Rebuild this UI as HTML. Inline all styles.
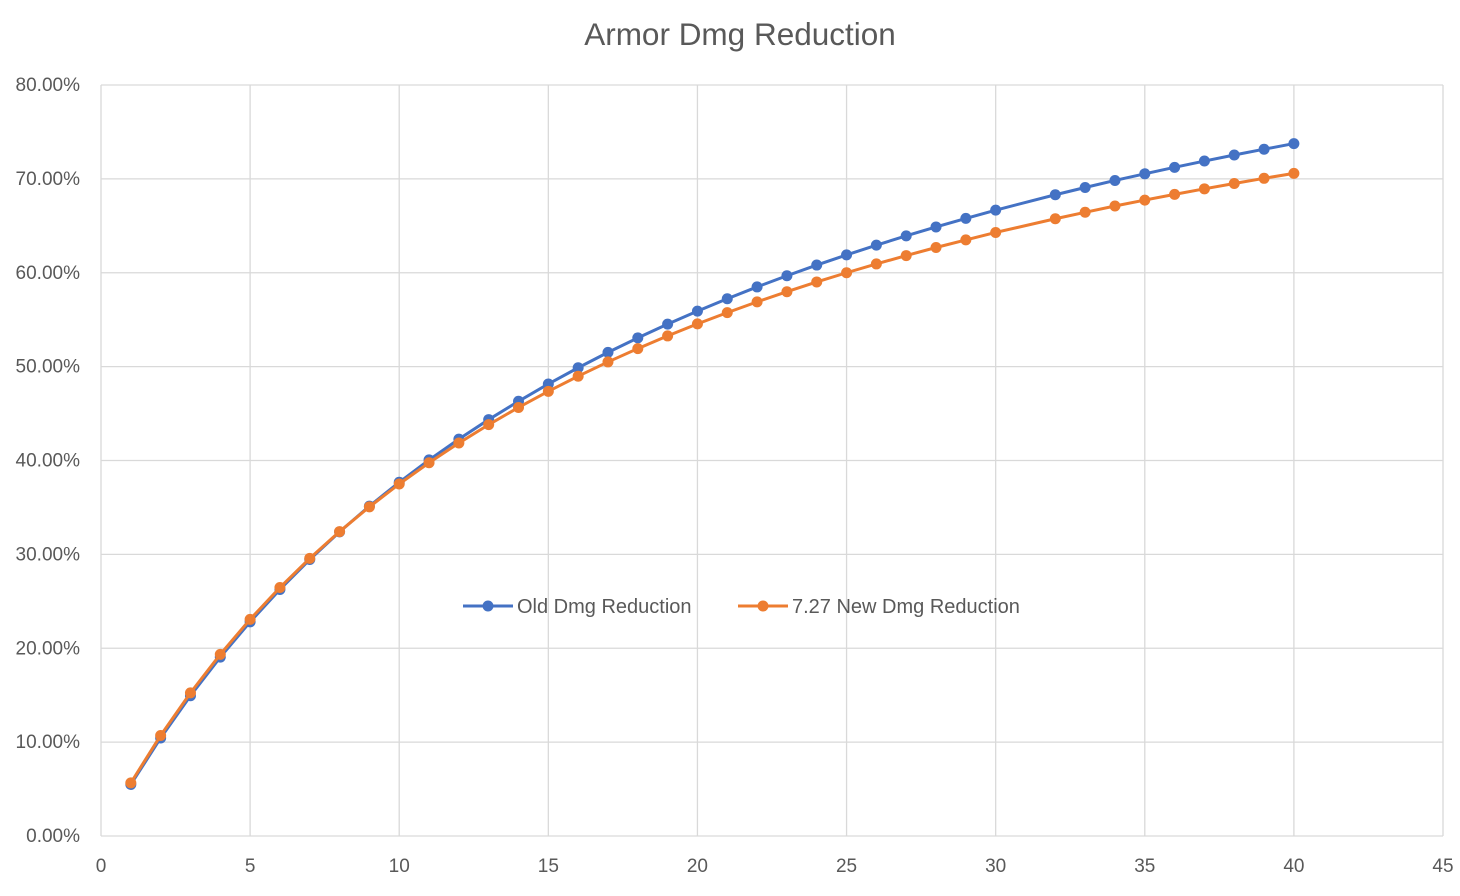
<!DOCTYPE html>
<html><head><meta charset="utf-8"><style>
body{margin:0;background:#fff;font-family:"Liberation Sans",sans-serif}
svg text{font-family:"Liberation Sans",sans-serif;fill:#595959}
</style></head><body>
<svg id="c" width="1460" height="891"></svg>
<script>
const xVals=[1,2,3,4,5,6,7,8,9,10,11,12,13,14,15,16,17,18,19,20,21,22,23,24,25,26,27,28,29,30,32,33,34,35,36,37,38,39,40];
const oldVals=[5.49,10.44,14.94,19.05,22.81,26.26,29.45,32.40,35.14,37.68,40.06,42.28,44.36,46.31,48.15,49.88,51.52,53.06,54.53,55.91,57.23,58.49,59.68,60.82,61.90,62.94,63.93,64.88,65.79,66.67,68.31,69.08,69.83,70.54,71.23,71.90,72.54,73.16,73.76];
const newVals=[5.66,10.71,15.25,19.35,23.08,26.47,29.58,32.43,35.06,37.50,39.76,41.86,43.82,45.65,47.37,48.98,50.50,51.92,53.27,54.55,55.75,56.90,57.98,59.02,60.00,60.94,61.83,62.69,63.50,64.29,65.75,66.44,67.11,67.74,68.35,68.94,69.51,70.06,70.59];
const xTicks=[0,5,10,15,20,25,30,35,40,45];
const yTicks=[0,10,20,30,40,50,60,70,80];
const L=101,R=1443,T=85,B=836;
const sx=v=>L+(v/45)*(R-L), sy=v=>B-(v/80)*(B-T);
const svg=document.getElementById('c');const NS='http://www.w3.org/2000/svg';
function mk(t,a,p){const e=document.createElementNS(NS,t);for(const k in a)e.setAttribute(k,a[k]);(p||svg).appendChild(e);return e;}
const title=mk('text',{x:740,y:45,'text-anchor':'middle','font-size':31.5});title.textContent='Armor Dmg Reduction';


yTicks.forEach(v=>{const g=mk('line',{x1:L,x2:R,y1:sy(v),y2:sy(v),stroke:'#d9d9d9','stroke-width':1.3});


const t=mk('text',{x:80,y:sy(v)+6,'text-anchor':'end','font-size':19});t.textContent=v.toFixed(2)+'%';

});
xTicks.forEach(v=>{const g=mk('line',{x1:sx(v),x2:sx(v),y1:T,y2:B,stroke:'#d9d9d9','stroke-width':1.3});


const t=mk('text',{x:sx(v),y:872,'text-anchor':'middle','font-size':19});t.textContent=v;

});
function series(vals,color,name){const g=mk('g',{});


mk('polyline',{points:xVals.map((x,i)=>sx(x)+','+sy(vals[i])).join(' '),fill:'none',stroke:color,'stroke-width':3},g);
xVals.forEach((x,i)=>{const c=mk('circle',{cx:sx(x),cy:sy(vals[i]),r:5.5,fill:color},g);

});}
series(oldVals,'#4472c4','old-dmg-series');
series(newVals,'#ed7d31','new-dmg-series');
function legend(x,color,label,name){const g=mk('g',{});


mk('line',{x1:x,x2:x+50,y1:606,y2:606,stroke:color,'stroke-width':3},g);
mk('circle',{cx:x+25,cy:606,r:5.5,fill:color},g);
const t=mk('text',{x:x+54,y:613,'font-size':20},g);t.textContent=label;}
legend(463,'#4472c4','Old Dmg Reduction','legend-old');
legend(738,'#ed7d31','7.27 New Dmg Reduction','legend-new');
</script>
</body></html>
